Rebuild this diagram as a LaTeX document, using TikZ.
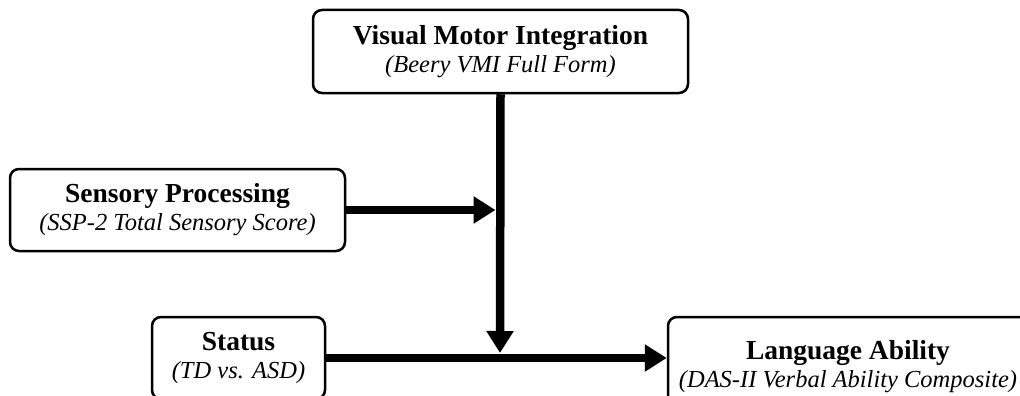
\documentclass[tikz,border=0pt]{standalone}
\usepackage{fontspec}
\setmainfont{Liberation Serif}
\usetikzlibrary{arrows.meta}
\newcommand\boxttl[1]{{\fontsize{27.5}{28}\selectfont\bfseries #1}}
\newcommand\boxsub[1]{{\fontsize{24.5}{28}\selectfont\itshape #1}}
\begin{document}
\begin{tikzpicture}[x=1pt,y=-1pt,
  box/.style={draw=black, line width=2.5pt, rounded corners=9pt, fill=white,
    inner sep=0pt, align=center, font=\fontsize{25}{28}\selectfont},
  conn/.style={line width=8.5pt, -{Triangle[length=22pt,width=26pt]}}]
\useasboundingbox (0,0) rectangle (1020,396);
\clip (0,0) rectangle (1020,396);
\node[box, minimum width=375pt, minimum height=83pt] (vmi) at (500.5,51.5)
  {\boxttl{Visual Motor Integration}\\\boxsub{(Beery VMI Full Form)}};
\node[box, minimum width=335pt, minimum height=82pt] (sens) at (177.5,210)
  {\boxttl{Sensory Processing}\\\boxsub{(SSP-2 Total Sensory Score)}};
\node[box, minimum width=173pt, minimum height=82pt] (status) at (238.5,358)
  {\boxttl{Status}\\\boxsub{(TD vs. ASD)}};
\node[box, minimum width=360pt, minimum height=100pt] (lang) at (848,367)
  {\boxttl{Language Ability}\\\boxsub{(DAS-II Verbal Ability Composite)}};
\coordinate (sensTip) at (495.5,210);
\coordinate (downTip) at (500,353);
\draw[conn] (vmi.south) -- (downTip);
\draw[conn] (sens.east) -- (sensTip);
\draw[conn] (status.east) -- (status.east -| lang.west);
\end{tikzpicture}
\end{document}
